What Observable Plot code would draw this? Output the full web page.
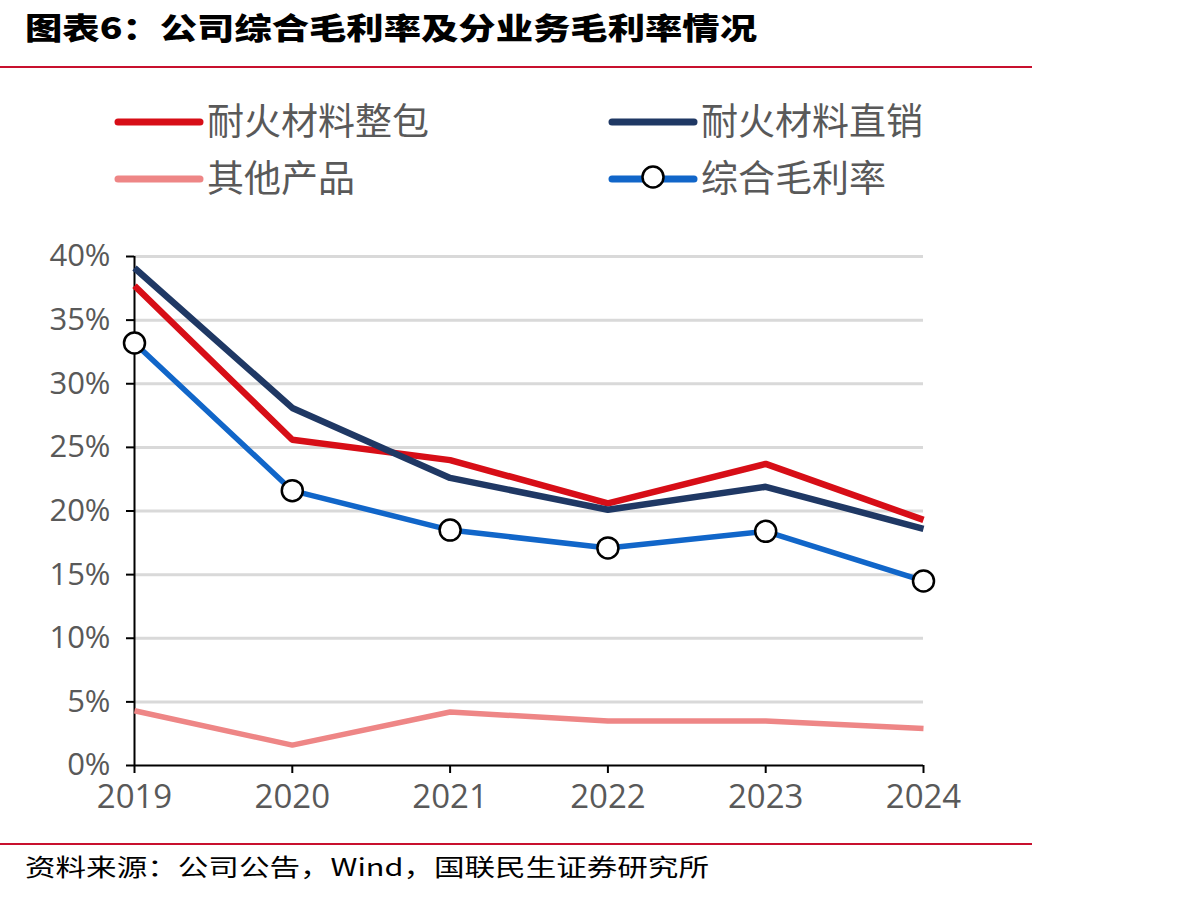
<!DOCTYPE html>
<html><head><meta charset="utf-8">
<script src="https://cdn.jsdelivr.net/npm/d3@7"></script>
<script src="https://cdn.jsdelivr.net/npm/@observablehq/plot@0.6"></script>
<style>
html,body{margin:0;padding:0;background:#fff;}
#wrap{position:relative;width:1187px;height:898px;overflow:hidden;background:#fff;}
#wrap > *{position:absolute;left:0;}
</style></head>
<body><div id="wrap"></div>
<script>
const title = "图表6：公司综合毛利率及分业务毛利率情况";
const source = "资料来源：公司公告，Wind，国联民生证券研究所";
const years = [2019, 2020, 2021, 2022, 2023, 2024];
const seriesNames = ["耐火材料整包", "耐火材料直销", "其他产品", "综合毛利率"];
const packageMargin = [37.7, 25.6, 24.0, 20.6, 23.7, 19.3];
const directMargin  = [39.1, 28.1, 22.6, 20.1, 21.9, 18.6];
const otherMargin   = [4.3, 1.6, 4.2, 3.5, 3.5, 2.9];
const totalMargin   = [33.2, 21.6, 18.5, 17.1, 18.4, 14.5];
const yTicks = [0, 5, 10, 15, 20, 25, 30, 35, 40];

const colors = ["#D70E17", "#1F3864", "#EE8686", "#1166C9"];
const widths = [6.5, 6.5, 5.5, 5.5];
const valuesList = [packageMargin, directMargin, otherMargin, totalMargin];
const rows = valuesList.map(v => years.map((y, i) => ({year: y, value: v[i]})));

const wrap = document.getElementById("wrap");
const NS = "http://www.w3.org/2000/svg";

const lineOpts = i => ({x: "year", y: "value", stroke: colors[i], strokeWidth: widths[i], strokeLinejoin: "miter", strokeLinecap: "butt"});

const chart = Plot.plot({
  width: 1187, height: 600,
  marginTop: 26, marginBottom: 65, marginLeft: 134, marginRight: 264,
  style: {fontFamily: "'Open Sans', sans-serif", background: "transparent", color: "#595959", overflow: "visible"},
  x: {domain: [2019, 2024], label: null},
  y: {domain: [0, 40], label: null},
  marks: [
    Plot.ruleY(yTicks.filter(d => d > 0), {stroke: "#D9D9D9", strokeWidth: 3}),
    Plot.axisY({ticks: yTicks, tickFormat: d => d + "%", tickSize: 8, tickPadding: 16, fontSize: 31, stroke: "#000", fill: "#595959", strokeWidth: 2, label: null}),
    Plot.axisX({ticks: years, tickFormat: d => String(d), tickSize: 8, tickPadding: 11, fontSize: 33, stroke: "#000", fill: "#595959", strokeWidth: 2, label: null}),
    Plot.ruleX([2019], {stroke: "#000", strokeWidth: 2}),
    Plot.ruleY([0], {stroke: "#000", strokeWidth: 2}),
    Plot.lineY(rows[2], lineOpts(2)),
    Plot.lineY(rows[3], lineOpts(3)),
    Plot.lineY(rows[0], lineOpts(0)),
    Plot.lineY(rows[1], lineOpts(1)),
    Plot.dot(rows[3], {x: "year", y: "value", r: 10.5, fill: "#fff", stroke: "#000", strokeWidth: 2.5})
  ]
});
chart.style.top = "230px";
wrap.appendChild(chart);

const ov = document.createElementNS(NS, "svg");
ov.setAttribute("width", 1187); ov.setAttribute("height", 898);
ov.style.top = "0px";
function el(tag, attrs, text) {
  const e = document.createElementNS(NS, tag);
  for (const k in attrs) e.setAttribute(k, attrs[k]);
  if (text != null) e.textContent = text;
  ov.appendChild(e); return e;
}
el("text", {x: 25, y: 39, "font-family": "'Noto Sans CJK SC', sans-serif", "font-weight": 900, "font-size": 30, fill: "#000", textLength: 732, lengthAdjust: "spacingAndGlyphs"}, title);
el("line", {x1: 0, x2: 1032, y1: 67, y2: 67, stroke: "#C8102E", "stroke-width": 2});
el("line", {x1: 0, x2: 1032, y1: 844, y2: 844, stroke: "#C8102E", "stroke-width": 2});
el("text", {x: 25, y: 876, "font-family": "'Noto Sans CJK SC', sans-serif", "font-size": 24, fill: "#000", textLength: 684, lengthAdjust: "spacingAndGlyphs"}, source);

const legendPos = [[118, 122], [612, 122], [118, 179], [612, 179]];
seriesNames.forEach((name, i) => {
  const [lx, ly] = legendPos[i];
  el("line", {x1: lx, x2: lx + 82, y1: ly, y2: ly, stroke: colors[i], "stroke-width": 7, "stroke-linecap": "round"});
  if (i === 3) el("circle", {cx: lx + 41, cy: ly - 2, r: 10.5, fill: "#fff", stroke: "#000", "stroke-width": 2.5});
  el("text", {x: lx + 89, y: ly + 13, "font-family": "'Noto Sans CJK SC', sans-serif", "font-size": 37, fill: "#595959"}, name);
});
wrap.appendChild(ov);
</script>
</body></html>
